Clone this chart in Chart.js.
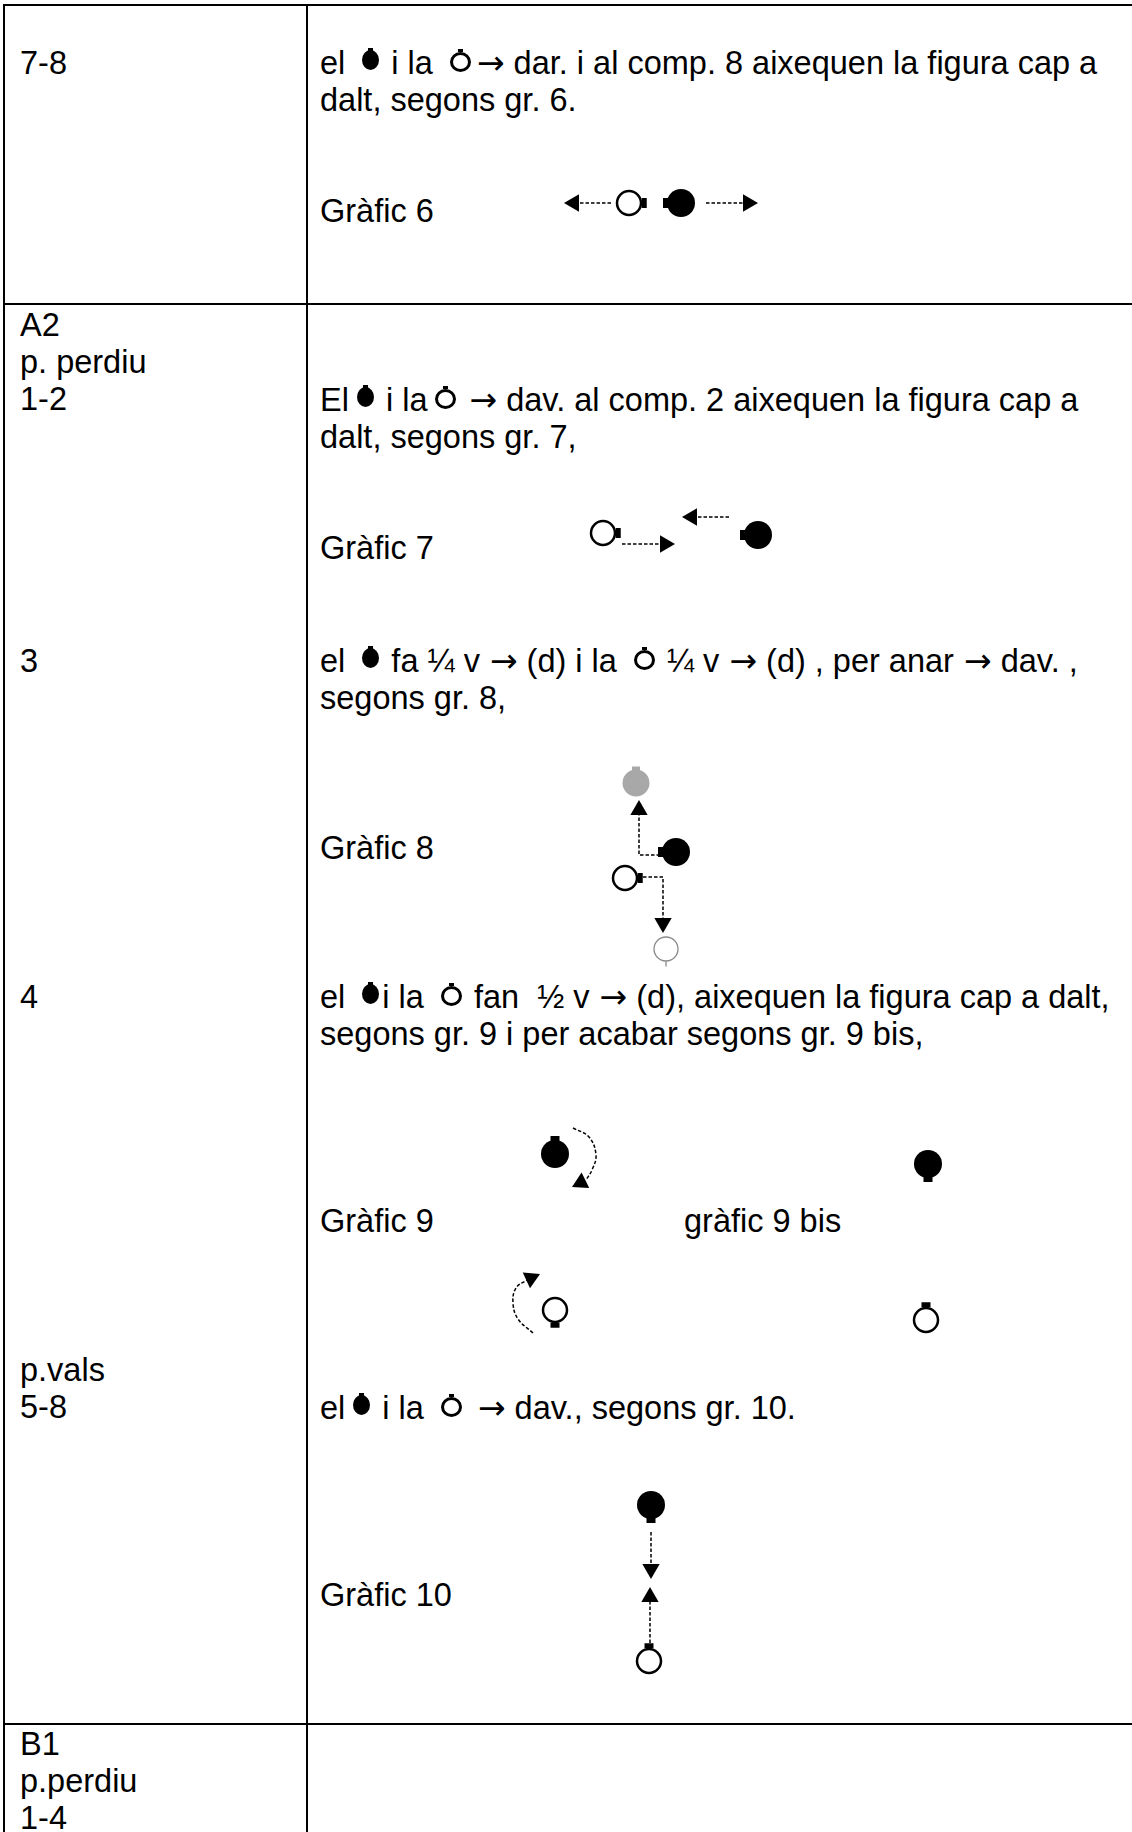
<!DOCTYPE html>
<html>
<head>
<meta charset="utf-8">
<script src="https://cdn.jsdelivr.net/npm/chart.js@4.4.1/dist/chart.umd.min.js"></script>
<style>
html,body{margin:0;padding:0;background:#fff;}
body{width:1132px;height:1832px;position:relative;overflow:hidden;font-family:"Liberation Sans",Arial,Helvetica,sans-serif;font-size:32.5px;line-height:37px;color:#000;}
.t{position:absolute;white-space:nowrap;}
.hl{position:absolute;background:#000;height:2px;left:3px;right:0;}
.vl{position:absolute;background:#000;width:2px;top:4px;bottom:0;}
.m{display:inline-block;width:17px;height:20px;background:#000;border-radius:50%;position:relative;vertical-align:4px;margin:0 3px 0 8px;}
.m::before{content:"";position:absolute;left:6px;top:-2px;width:5px;height:3px;background:#000;}
.w{display:inline-block;width:15px;height:14px;border:3px solid #000;border-radius:50%;position:relative;vertical-align:2px;margin:0 3px 0 8px;}
.w::before{content:"";position:absolute;left:5px;top:-6px;width:5px;height:3px;background:#000;}
.a{font-family:"DejaVu Sans",sans-serif;font-size:33px;line-height:0;margin-left:1px;}
#c{position:absolute;left:0;top:0;pointer-events:none;}
</style>
</head>
<body>
<div class="hl" style="top:4px"></div>
<div class="hl" style="top:303px"></div>
<div class="hl" style="top:1723px"></div>
<div class="vl" style="left:3px"></div>
<div class="vl" style="left:306px"></div>

<div class="t" style="left:20px;top:45px">7-8</div>
<div class="t" style="left:20px;top:307px">A2<br>p. perdiu<br>1-2</div>
<div class="t" style="left:20px;top:643px">3</div>
<div class="t" style="left:20px;top:979px">4</div>
<div class="t" style="left:20px;top:1352px">p.vals<br>5-8</div>
<div class="t" style="left:20px;top:1726px">B1<br>p.perdiu<br>1-4</div>

<div class="t" style="left:320px;top:45px">el <span class="m"></span> i la <span class="w"></span><span class="a" style="margin-left:3px">→</span> dar. i al comp. 8 aixequen la figura cap a<br>dalt, segons gr. 6.</div>
<div class="t" style="left:320px;top:193px">Gràfic 6</div>
<div class="t" style="left:320px;top:382px">El<span class="m"></span> i la<span class="w"></span> <span class="a">→</span> dav. al comp. 2 aixequen la figura cap a<br>dalt, segons gr. 7,</div>
<div class="t" style="left:320px;top:530px">Gràfic 7</div>
<div class="t" style="left:320px;top:643px">el <span class="m"></span> fa ¼ v <span class="a">→</span> (d) i la <span class="w"></span> ¼ v <span class="a">→</span> (d) , per anar <span class="a">→</span> dav. ,<br>segons gr. 8,</div>
<div class="t" style="left:320px;top:830px">Gràfic 8</div>
<div class="t" style="left:320px;top:979px">el <span class="m"></span>i la <span class="w"></span> fan &nbsp;½ v <span class="a">→</span> (d), aixequen la figura cap a dalt,<br>segons gr. 9 i per acabar segons gr. 9 bis,</div>
<div class="t" style="left:320px;top:1203px">Gràfic 9</div>
<div class="t" style="left:684px;top:1203px">gràfic 9 bis</div>
<div class="t" style="left:320px;top:1390px">el<span class="m"></span> i la <span class="w"></span> <span class="a" style="margin-left:4px">→</span> dav., segons gr. 10.</div>
<div class="t" style="left:320px;top:1577px">Gràfic 10</div>

<canvas id="c" width="1132" height="1832"></canvas>

<script>
// ---- Figure data (stage units; 1 unit = 1 page pixel) ----
const graphics     = ['Gràfic 6', 'Gràfic 7', 'Gràfic 8', 'Gràfic 9', 'gràfic 9 bis', 'Gràfic 10'];
// man (filled) and woman (open) positions in each graphic
const manX         = [681, 758, 676, 555, 928, 651];
const manY         = [203, 535, 852, 1154, 1164, 1505];
const manFacing    = ['left', 'left', 'left', 'up', 'down', 'down'];
const womanX       = [629, 603, 625, 555, 926, 649];
const womanY       = [203, 533, 878, 1310, 1320, 1661];
const womanFacing  = ['right', 'right', 'right', 'down', 'up', 'up'];
// Gràfic 8: positions reached after the quarter turn
const manEndX      = [636];
const manEndY      = [783];
const womanEndX    = [666];
const womanEndY    = [949];
// dashed movement paths (polyline / curve points) and the arrow tips
const arrowPaths = [
  [[611, 203], [578, 203]],
  [[706, 203], [745, 203]],
  [[622, 544], [662, 544]],
  [[729, 517], [695, 517]],
  [[660, 855], [639, 855], [639, 814]],
  [[643, 877], [663, 877], [663, 920]],
  [[573, 1128], [589, 1137], [596, 1155], [592, 1170], [586, 1180]],
  [[533, 1333], [518, 1319], [513, 1303], [516, 1288], [527, 1280]],
  [[651, 1532], [651, 1566]],
  [[650, 1643], [650, 1601]]
];
const arrowTips = [
  [564, 203], [758, 203], [675, 544], [682, 517], [639, 800],
  [663, 933], [572, 1187], [540, 1274], [651, 1579], [650, 1587]
];

// ---- styling ----
const HEAD_R = 10, MAN_R = 14, WOMAN_R = 12, WOMAN_BW = 2.5;
const dirVec = {left: [-1, 0], right: [1, 0], up: [0, -1], down: [0, 1]};

function tabPoints(xs, ys, facing, offset) {
  return xs.map((x, i) => {
    const d = dirVec[facing[i]];
    return {x: x + d[0] * offset, y: ys[i] + d[1] * offset};
  });
}
function tabRot(facing) { return facing.map(f => (f === 'left' || f === 'right') ? 90 : 0); }
function tabLen(facing) { return facing.map(f => (f === 'left' || f === 'right') ? 5 : 4.5); }

const heads = arrowPaths.map((p, i) => {
  const b = p[p.length - 1], t = arrowTips[i];
  let dx = t[0] - b[0], dy = t[1] - b[1];
  const L = Math.hypot(dx, dy); dx /= L; dy /= L;
  return {x: t[0] - HEAD_R * dx, y: t[1] - HEAD_R * dy, rot: Math.atan2(dx, -dy) * 180 / Math.PI};
});

const datasets = [];
// dancers (drawn on top)
datasets.push({label: 'man', data: manX.map((x, i) => ({x, y: manY[i]})),
  pointStyle: 'circle', pointRadius: MAN_R, pointBackgroundColor: '#000', pointBorderWidth: 0});
datasets.push({label: 'woman', data: womanX.map((x, i) => ({x, y: womanY[i]})),
  pointStyle: 'circle', pointRadius: WOMAN_R, pointBackgroundColor: '#fff', pointBorderColor: '#000', pointBorderWidth: WOMAN_BW});
datasets.push({label: 'man end', data: manEndX.map((x, i) => ({x, y: manEndY[i]})),
  pointStyle: 'circle', pointRadius: 13.5, pointBackgroundColor: '#a8a8a8', pointBorderWidth: 0});
datasets.push({label: 'woman end', data: womanEndX.map((x, i) => ({x, y: womanEndY[i]})),
  pointStyle: 'circle', pointRadius: 12, pointBackgroundColor: '#fff', pointBorderColor: '#8a8a8a', pointBorderWidth: 1.3});
// facing tabs
datasets.push({label: 'man tab', data: tabPoints(manX, manY, manFacing, MAN_R + 1.5),
  pointStyle: 'line', pointRadius: tabLen(manFacing), pointRotation: tabRot(manFacing), pointBorderColor: '#000', pointBorderWidth: 5});
datasets.push({label: 'woman tab', data: tabPoints(womanX, womanY, womanFacing, WOMAN_R + WOMAN_BW / 2 + 2),
  pointStyle: 'line', pointRadius: tabLen(womanFacing), pointRotation: tabRot(womanFacing), pointBorderColor: '#000', pointBorderWidth: 5});
datasets.push({label: 'man end tab', data: tabPoints(manEndX, manEndY, ['up'], 14.5),
  pointStyle: 'line', pointRadius: 4, pointRotation: 0, pointBorderColor: '#a8a8a8', pointBorderWidth: 4});
datasets.push({label: 'woman end tab', data: tabPoints(womanEndX, womanEndY, ['down'], 15),
  pointStyle: 'line', pointRadius: 2.5, pointRotation: 90, pointBorderColor: '#8a8a8a', pointBorderWidth: 1.3});
// arrow heads
datasets.push({label: 'heads', data: heads.map(h => ({x: h.x, y: h.y})),
  pointStyle: 'triangle', pointRadius: HEAD_R, pointRotation: heads.map(h => h.rot), pointBackgroundColor: '#000', pointBorderWidth: 0});
// dashed paths
arrowPaths.forEach((p, i) => {
  datasets.push({label: 'path ' + i, data: p.map(([x, y]) => ({x, y})), showLine: true,
    borderColor: '#000', borderWidth: 1.5, borderDash: [3.5, 2], pointRadius: 0,
    tension: p.length > 3 ? 0.4 : 0, fill: false});
});

new Chart(document.getElementById('c'), {
  type: 'scatter',
  data: {datasets},
  options: {
    responsive: false, animation: false, devicePixelRatio: 1, events: [],
    layout: {padding: 0, autoPadding: false},
    scales: {
      x: {type: 'linear', min: 0, max: 1132, display: false},
      y: {type: 'linear', min: 0, max: 1832, reverse: true, display: false}
    },
    plugins: {legend: {display: false}, tooltip: {enabled: false}}
  }
});
</script>
</body>
</html>
